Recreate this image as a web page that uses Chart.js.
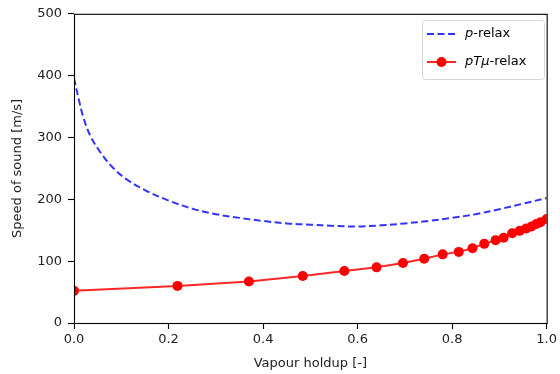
<!DOCTYPE html>
<html>
<head>
<meta charset="utf-8">
<script src="https://cdn.jsdelivr.net/npm/chart.js@4"></script>
<style>
  body { margin: 0; background: #fff; }
  canvas { display: block; }
</style>
</head>
<body>
<canvas id="chart" width="560" height="374"></canvas>
<script>
// p-relax (dashed blue curve)
const pRelaxX = [0, 0.01, 0.02, 0.035, 0.055, 0.08, 0.11, 0.15, 0.2, 0.25, 0.3, 0.35, 0.4, 0.45, 0.5, 0.55, 0.6, 0.65, 0.7, 0.75, 0.8, 0.85, 0.9, 0.95, 1.0];
const pRelaxY = [396, 362, 332, 302, 277, 253, 233, 215, 198, 185, 176, 170, 165, 161, 159, 157, 156, 158, 161, 165, 170, 176, 184, 193, 202];

// pTmu-relax (red line with markers)
const ptmuX = [0, 0.219, 0.370, 0.484, 0.572, 0.640, 0.696, 0.741, 0.780, 0.814, 0.843, 0.868, 0.892, 0.909, 0.927, 0.943, 0.957, 0.968, 0.978, 0.987, 1.0];
const ptmuY = [52, 60, 67, 76, 84, 90, 97, 104, 111, 115, 121, 128, 134, 138, 145, 149, 153, 156, 160, 163, 168];

const xTicks = [0, 0.2, 0.4, 0.6, 0.8, 1.0];
const yTicks = [0, 100, 200, 300, 400, 500];

const seriesLabels = ['p-relax', 'pTμ-relax'];

const toPoints = (xs, ys) => xs.map((x, i) => ({ x: x, y: ys[i] }));

const tickFont = { family: 'DejaVu Sans', size: 13 };

// axes frame on all four sides
const framePlugin = {
    id: 'frame',
    afterDatasetsDraw(chart) {
        const { ctx, chartArea: a } = chart;
        ctx.save();
        ctx.strokeStyle = '#000';
        ctx.lineWidth = 1.1;
        ctx.strokeRect(a.left + 0.5, a.top + 0.5, a.right - a.left, a.bottom - a.top);
        ctx.restore();
    }
};

// matplotlib style legend, italic part before the dash
const legendPlugin = {
    id: 'mplLegend',
    afterDraw(chart) {
        const ctx = chart.ctx;
        const bx = 422.5, by = 20.5, bw = 122, bh = 59;
        ctx.save();
        ctx.beginPath();
        ctx.roundRect(bx, by, bw, bh, 3);
        ctx.fillStyle = 'rgba(255,255,255,0.8)';
        ctx.fill();
        ctx.strokeStyle = '#d6d6d6';
        ctx.lineWidth = 1;
        ctx.stroke();

        const rows = [34, 62];
        chart.data.datasets.forEach((ds, i) => {
            const y = rows[i];
            ctx.beginPath();
            ctx.setLineDash(ds.borderDash || []);
            ctx.strokeStyle = ds.borderColor;
            ctx.lineWidth = ds.borderWidth;
            ctx.moveTo(427, y);
            ctx.lineTo(456, y);
            ctx.stroke();
            ctx.setLineDash([]);
            if (ds.pointRadius > 0) {
                ctx.beginPath();
                ctx.arc(441.5, y, ds.pointRadius, 0, Math.PI * 2);
                ctx.fillStyle = ds.pointBackgroundColor;
                ctx.fill();
            }
            const label = ds.label;
            const cut = label.indexOf('-');
            const italic = label.slice(0, cut);
            const rest = label.slice(cut);
            ctx.fillStyle = '#000';
            ctx.textBaseline = 'middle';
            ctx.font = 'italic 13px "DejaVu Sans"';
            ctx.fillText(italic, 465, y);
            const w = ctx.measureText(italic).width;
            ctx.font = '13px "DejaVu Sans"';
            ctx.fillText(rest, 465 + w, y);
        });
        ctx.restore();
    }
};

new Chart(document.getElementById('chart'), {
    type: 'scatter',
    data: {
        datasets: [
            {
                label: seriesLabels[0],
                data: toPoints(pRelaxX, pRelaxY),
                showLine: true,
                borderColor: 'rgba(0,0,255,0.8)',
                borderWidth: 2,
                borderDash: [7, 3.5],
                pointRadius: 0,
                tension: 0.35,
                fill: false
            },
            {
                label: seriesLabels[1],
                data: toPoints(ptmuX, ptmuY),
                showLine: true,
                borderColor: 'rgba(255,0,0,0.85)',
                borderWidth: 2,
                pointRadius: 5,
                pointHoverRadius: 5,
                pointBackgroundColor: 'rgb(255,0,0)',
                pointBorderWidth: 0,
                tension: 0,
                fill: false
            }
        ]
    },
    options: {
        responsive: false,
        animation: false,
        devicePixelRatio: 1,
        layout: { padding: { left: 0, top: 13, right: 9, bottom: 0 } },
        plugins: {
            legend: { display: false },
            tooltip: { enabled: false }
        },
        scales: {
            x: {
                type: 'linear',
                min: 0,
                max: 1,
                afterBuildTicks: axis => { axis.ticks = xTicks.map(v => ({ value: v })); },
                afterFit: axis => { axis.height = 51; },
                border: { display: false },
                grid: { drawOnChartArea: false, drawTicks: true, tickLength: 6, color: '#000', tickWidth: 1.1 },
                ticks: {
                    color: '#222',
                    font: tickFont,
                    padding: 3,
                    maxRotation: 0,
                    callback: v => v.toFixed(1)
                },
                title: {
                    display: true,
                    text: 'Vapour holdup [-]',
                    color: '#222',
                    font: tickFont,
                    padding: { top: 2, bottom: 3 }
                }
            },
            y: {
                type: 'linear',
                min: 0,
                max: 500,
                afterBuildTicks: axis => { axis.ticks = yTicks.map(v => ({ value: v })); },
                afterFit: axis => { axis.width = 74; },
                border: { display: false },
                grid: { drawOnChartArea: false, drawTicks: true, tickLength: 6, color: '#000', tickWidth: 1.1 },
                ticks: {
                    color: '#222',
                    font: tickFont,
                    padding: 6,
                    callback: v => String(v)
                },
                title: {
                    display: true,
                    text: 'Speed of sound [m/s]',
                    color: '#222',
                    font: tickFont,
                    padding: { top: 10, bottom: 0 }
                }
            }
        }
    },
    plugins: [framePlugin, legendPlugin]
});
</script>
</body>
</html>
